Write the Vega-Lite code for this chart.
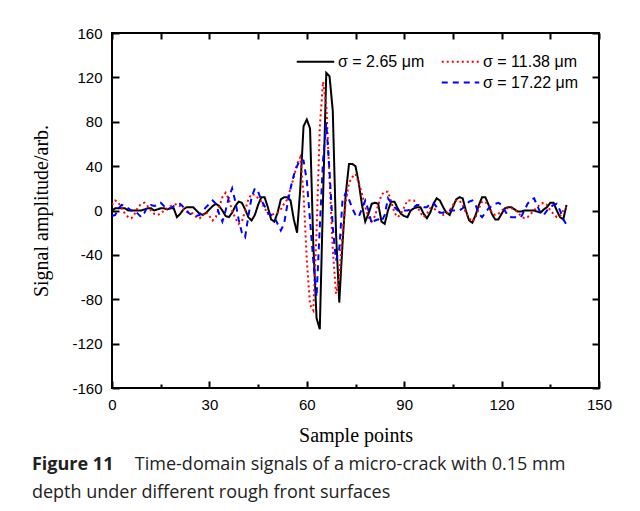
{
"$schema": "https://vega.github.io/schema/vega-lite/v6.json",
"width": 487, "height": 355,
"autosize": {"type": "none"},
"padding": {"left": 112, "top": 33, "right": 41, "bottom": 123},
"background": "white",
"config": {"view": {"stroke": "black", "strokeWidth": 2}, "font": "Liberation Sans"},
"title": {
  "text": "Figure 11", "orient": "bottom", "anchor": "start", "frame": "bounds",
  "font": "Open Sans", "fontSize": 18, "fontWeight": "bold", "color": "#222", "offset": 11,
  "subtitle": ["\u200b\u00a0\u00a0\u00a0\u00a0\u00a0\u00a0\u00a0\u00a0\u00a0\u00a0\u00a0\u00a0\u00a0\u00a0\u00a0\u00a0\u00a0\u00a0\u00a0\u00a0\u00a0\u00a0Time-domain signals of a micro-crack with 0.15 mm", "depth under different rough front surfaces"],
  "subtitleFont": "Open Sans", "subtitleFontSize": 18, "subtitleColor": "#222", "subtitlePadding": -18, "subtitleLineHeight": 28
},
"data": {"values": [
{"x":0,"a":0,"b":5,"c":-5},{"x":1,"a":2,"b":9,"c":-4},{"x":2,"a":2,"b":7,"c":2},{"x":3,"a":2,"b":2,"c":5},{"x":4,"a":2,"b":-3,"c":4},
{"x":5,"a":0,"b":-6,"c":2},{"x":6,"a":0,"b":-7,"c":0},{"x":7,"a":0,"b":-3,"c":0},{"x":8,"a":0,"b":3,"c":-3},{"x":9,"a":0,"b":6,"c":-6},
{"x":10,"a":1,"b":7,"c":-2},{"x":11,"a":2,"b":4,"c":4},{"x":12,"a":2,"b":0,"c":5},{"x":13,"a":0,"b":-3,"c":4},{"x":14,"a":1,"b":-4,"c":5},
{"x":15,"a":2,"b":-3,"c":7},{"x":16,"a":2,"b":0,"c":4},{"x":17,"a":1,"b":2,"c":2},{"x":18,"a":2,"b":4,"c":2},{"x":19,"a":2,"b":5,"c":4},
{"x":20,"a":-6,"b":6,"c":5},{"x":21,"a":-3,"b":4,"c":6},{"x":22,"a":1,"b":1,"c":3},{"x":23,"a":3,"b":-1,"c":-1},{"x":24,"a":3,"b":-1,"c":-3},
{"x":25,"a":3,"b":-3,"c":-4},{"x":26,"a":0,"b":-6,"c":-5},{"x":27,"a":-3,"b":-7,"c":-4},{"x":28,"a":-4,"b":-4,"c":0},{"x":29,"a":-2,"b":-1,"c":3},
{"x":30,"a":1,"b":-5,"c":6},{"x":31,"a":4,"b":-9,"c":9},{"x":32,"a":6,"b":-6,"c":6},{"x":33,"a":4,"b":3,"c":-3},{"x":34,"a":0,"b":12,"c":-10},
{"x":35,"a":-5,"b":16,"c":0},{"x":36,"a":-6,"b":10,"c":12},{"x":37,"a":-2,"b":0,"c":20},{"x":38,"a":4,"b":-7,"c":8},{"x":39,"a":8,"b":-12,"c":-8},
{"x":40,"a":7,"b":-10,"c":-20},{"x":41,"a":1,"b":0,"c":-24},{"x":42,"a":-6,"b":10,"c":-5},{"x":43,"a":-9,"b":15,"c":12},{"x":44,"a":-4,"b":14,"c":20},
{"x":45,"a":5,"b":11,"c":17},{"x":46,"a":12,"b":8,"c":9},{"x":47,"a":12,"b":2,"c":4},{"x":48,"a":3,"b":-3,"c":-2},{"x":49,"a":-8,"b":-4,"c":-4},
{"x":50,"a":-10,"b":-3,"c":-6},{"x":51,"a":-2,"b":-2,"c":-12},{"x":52,"a":10,"b":1,"c":-18},{"x":53,"a":12,"b":6,"c":-12},{"x":54,"a":12,"b":10,"c":5},
{"x":55,"a":9,"b":20,"c":20},{"x":56,"a":-8,"b":30,"c":32},{"x":57,"a":-20,"b":42,"c":40},{"x":58,"a":20,"b":48,"c":46},{"x":59,"a":76,"b":15,"c":45},
{"x":60,"a":82,"b":-45,"c":27},{"x":61,"a":74,"b":-85,"c":-9},{"x":62,"a":-30,"b":-90,"c":-45},{"x":63,"a":-97,"b":-20,"c":-78},{"x":64,"a":-107,"b":75,"c":-15},
{"x":65,"a":10,"b":116,"c":45},{"x":66,"a":124,"b":95,"c":79},{"x":67,"a":121,"b":30,"c":35},{"x":68,"a":90,"b":-35,"c":-15},{"x":69,"a":-20,"b":-75,"c":-45},
{"x":70,"a":-83,"b":-60,"c":-35},{"x":71,"a":-30,"b":-20,"c":9},{"x":72,"a":15,"b":8,"c":16},{"x":73,"a":42,"b":25,"c":10},{"x":74,"a":42,"b":30,"c":2},
{"x":75,"a":40,"b":33,"c":-4},{"x":76,"a":25,"b":25,"c":-6},{"x":77,"a":5,"b":15,"c":2},{"x":78,"a":-10,"b":3,"c":9},{"x":79,"a":-3,"b":-6,"c":0},
{"x":80,"a":6,"b":-10,"c":-12},{"x":81,"a":7,"b":-5,"c":-9},{"x":82,"a":6,"b":5,"c":-8},{"x":83,"a":-10,"b":14,"c":-10},{"x":84,"a":-12,"b":17,"c":-4},
{"x":85,"a":0,"b":17,"c":11},{"x":86,"a":8,"b":8,"c":7},{"x":87,"a":8,"b":-2,"c":3},{"x":88,"a":2,"b":-6,"c":0},{"x":89,"a":-3,"b":-3,"c":0},
{"x":90,"a":-5,"b":3,"c":0},{"x":91,"a":-6,"b":9,"c":0},{"x":92,"a":0,"b":9,"c":1},{"x":93,"a":2,"b":9,"c":3},{"x":94,"a":3,"b":4,"c":5},
{"x":95,"a":3,"b":-2,"c":5},{"x":96,"a":-3,"b":-6,"c":3},{"x":97,"a":-7,"b":-3,"c":3},{"x":98,"a":-2,"b":2,"c":6},{"x":99,"a":6,"b":2,"c":7},
{"x":100,"a":11,"b":0,"c":3},{"x":101,"a":9,"b":-2,"c":-2},{"x":102,"a":3,"b":-4,"c":-2},{"x":103,"a":-2,"b":-3,"c":0},{"x":104,"a":-4,"b":0,"c":0},
{"x":105,"a":3,"b":5,"c":0},{"x":106,"a":10,"b":9,"c":0},{"x":107,"a":12,"b":9,"c":0},{"x":108,"a":11,"b":5,"c":2},{"x":109,"a":0,"b":-2,"c":5},
{"x":110,"a":-9,"b":-7,"c":8},{"x":111,"a":-11,"b":-10,"c":9},{"x":112,"a":-4,"b":-6,"c":5},{"x":113,"a":5,"b":2,"c":-3},{"x":114,"a":12,"b":8,"c":-6},
{"x":115,"a":12,"b":8,"c":-2},{"x":116,"a":5,"b":4,"c":2},{"x":117,"a":-3,"b":-2,"c":4},{"x":118,"a":-8,"b":-4,"c":6},{"x":119,"a":-8,"b":-3,"c":7},
{"x":120,"a":-3,"b":0,"c":5},{"x":121,"a":2,"b":2,"c":0},{"x":122,"a":3,"b":2,"c":-5},{"x":123,"a":3,"b":2,"c":-6},{"x":124,"a":1,"b":1,"c":-6},
{"x":125,"a":-1,"b":-2,"c":-6},{"x":126,"a":-1,"b":-5,"c":-6},{"x":127,"a":0,"b":-7,"c":0},{"x":128,"a":0,"b":-6,"c":6},{"x":129,"a":0,"b":-3,"c":10},
{"x":130,"a":0,"b":0,"c":11},{"x":131,"a":-1,"b":3,"c":4},{"x":132,"a":-2,"b":6,"c":-2},{"x":133,"a":1,"b":7,"c":-4},{"x":134,"a":3,"b":5,"c":0},
{"x":135,"a":7,"b":0,"c":3},{"x":136,"a":7,"b":-3,"c":5},{"x":137,"a":0,"b":-6,"c":6},{"x":138,"a":-6,"b":-5,"c":0},{"x":139,"a":-8,"b":0,"c":-8},
{"x":140,"a":5,"b":3,"c":-13}
]},
"transform": [{"fold": ["a", "b", "c"], "as": ["k", "v"]}],
"layer": [
  {
    "mark": {"type": "line", "strokeWidth": 2, "clip": true},
    "encoding": {
      "x": {"field": "x", "type": "quantitative", "scale": {"domain": [0, 150], "nice": false},
        "axis": {"orient": "bottom", "offset": -7, "values": [0,15,30,45,60,75,90,105,120,135,150], "ticks": true,
          "labelExpr": "datum.value % 30 == 0 ? datum.label : ''",
          "tickSize": 7,
          "tickDash": {"condition": {"test": "datum.value % 30 == 0", "value": [7, 0]}, "value": [0, 3, 4, 0]},
          "tickColor": "black", "tickWidth": 2, "domain": false, "grid": false,
          "labelFont": "Liberation Sans", "labelFontSize": 15, "labelColor": "black", "labelPadding": 9,
          "labelFlush": false, "labelOverlap": false,
          "title": "Sample points", "titleFont": "Liberation Serif", "titleFontSize": 20, "titleFontWeight": "normal", "titleColor": "black", "titlePadding": 13}},
      "y": {"field": "v", "type": "quantitative", "scale": {"domain": [-160, 160], "nice": false},
        "axis": {"orient": "left", "offset": -7, "values": [-160,-120,-80,-40,0,40,80,120,160], "ticks": true,
          "labelExpr": "datum.value < 0 ? '-' + abs(datum.value) : '' + datum.value",
          "tickSize": 7, "tickColor": "black", "tickWidth": 2, "domain": false, "grid": false,
          "labelFont": "Liberation Sans", "labelFontSize": 15, "labelColor": "black", "labelPadding": 10,
          "labelFlush": false, "labelOverlap": false,
          "title": "Signal amplitude/arb.", "titleFont": "Liberation Serif", "titleFontSize": 20, "titleFontWeight": "normal", "titleColor": "black", "titlePadding": 20}},
      "color": {"field": "k", "type": "nominal",
        "scale": {"domain": ["a", "_", "b", "c"], "range": ["#000000", "transparent", "#ff0000", "#0000ff"]},
        "legend": {"title": null, "orient": "top-right", "offset": 20, "columns": 2, "symbolType": "M-2.5,0H2.5", "symbolSize": 225, "symbolStrokeWidth": 2, "symbolOffset": 11,
          "labelFont": "Liberation Sans", "labelFontSize": 16, "labelColor": "black", "columnPadding": 12, "rowPadding": 4, "labelOffset": 14, "padding": 0,
          "labelExpr": "datum.value == 'a' ? 'σ = 2.65 μm' : datum.value == 'b' ? 'σ = 11.38 μm' : datum.value == 'c' ? 'σ = 17.22 μm' : ''"}},
      "strokeDash": {"field": "k", "type": "nominal",
        "scale": {"domain": ["a", "_", "b", "c"], "range": [[1, 0], [1, 0], [2, 3], [6, 5]]},
        "legend": {"title": null, "orient": "top-right", "offset": 20, "columns": 2, "symbolType": "M-2.5,0H2.5", "symbolSize": 225, "symbolStrokeWidth": 2, "symbolOffset": 11,
          "labelFont": "Liberation Sans", "labelFontSize": 16, "labelColor": "black", "columnPadding": 12, "rowPadding": 4, "labelOffset": 14, "padding": 0,
          "labelExpr": "datum.value == 'a' ? 'σ = 2.65 μm' : datum.value == 'b' ? 'σ = 11.38 μm' : datum.value == 'c' ? 'σ = 17.22 μm' : ''"}}
    }
  },
  {
    "mark": {"type": "point", "opacity": 0},
    "encoding": {
      "x": {"field": "x", "type": "quantitative",
        "axis": {"orient": "top", "offset": -6, "values": [0,15,30,45,60,75,90,105,120,135,150], "ticks": true, "labels": false, "tickSize": 6, "tickColor": "black", "tickWidth": 2, "domain": false, "grid": false, "title": null}},
      "y": {"field": "v", "type": "quantitative",
        "axis": {"orient": "right", "offset": -7, "values": [-160,-120,-80,-40,0,40,80,120,160], "ticks": true, "labels": false, "tickSize": 7, "tickColor": "black", "tickWidth": 2, "domain": false, "grid": false, "title": null}}
    }
  }
],
"resolve": {"axis": {"x": "independent", "y": "independent"}}
}
